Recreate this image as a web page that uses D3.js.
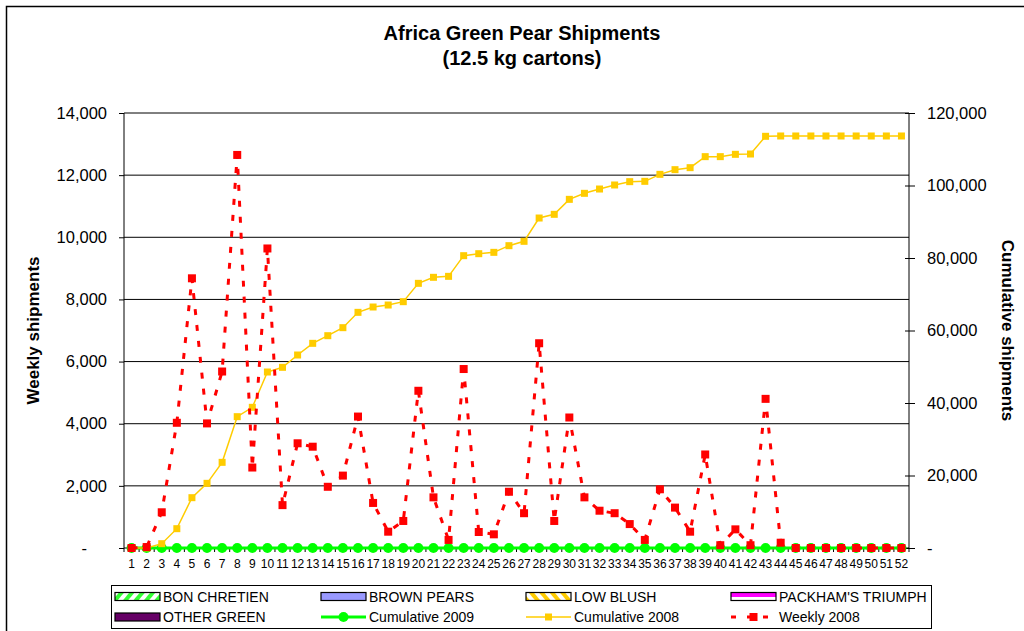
<!DOCTYPE html>
<html>
<head>
<meta charset="utf-8">
<script src="https://cdn.jsdelivr.net/npm/d3@7"></script>
<style>
  html, body { margin: 0; padding: 0; background: #fff; }
  svg { display: block; font-family: "Liberation Sans", Arial, sans-serif; }
</style>
</head>
<body>
<svg id="chart" width="1024" height="631"></svg>
<script>
// ---------- DATA ----------
const categories = ["1","2","3","4","5","6","7","8","9","10","11","12","13","14","15","16","17","18","19","20","21","22","23","24","25","26","27","28","29","30","31","32","33","34","35","36","37","38","39","40","41","42","43","44","45","46","47","48","49","50","51","52"];

const weekly2008 = [0, 30, 1150, 4030, 8680, 4010, 5680, 12650, 2590, 9640, 1380, 3370, 3260, 1970, 2330, 4230, 1450, 525, 870, 5060, 1630, 260, 5760, 515, 440, 1810, 1120, 6590, 870, 4200, 1630, 1200, 1120, 770, 260, 1890, 1300, 525, 3010, 90, 600, 90, 4800, 170, 0, 0, 0, 0, 0, 0, 0, 0];

const cumulative2008 = [0, 30, 1190, 5330, 13880, 17840, 23630, 36230, 38810, 48550, 49840, 53240, 56460, 58570, 60780, 65010, 66480, 67030, 67950, 73010, 74670, 74940, 80640, 81190, 81560, 83400, 84600, 91030, 92050, 96180, 97840, 99030, 100140, 101060, 101150, 103080, 104370, 104920, 107960, 107960, 108600, 108690, 113570, 113660, 113660, 113660, 113660, 113660, 113660, 113660, 113660, 113660];

const cumulative2009 = [0,0,0,0,0,0,0,0,0,0,0,0,0,0,0,0,0,0,0,0,0,0,0,0,0,0,0,0,0,0,0,0,0,0,0,0,0,0,0,0,0,0,0,0,0,0,0,0,0,0,0,0];

const leftTicks = [0, 2000, 4000, 6000, 8000, 10000, 12000, 14000];
const rightTicks = [0, 20000, 40000, 60000, 80000, 100000, 120000];

const barSeries = ["BON CHRETIEN", "BROWN PEARS", "LOW BLUSH", "PACKHAM'S TRIUMPH", "OTHER GREEN"];
const lineSeries = ["Cumulative 2009", "Cumulative 2008", "Weekly 2008"];

// ---------- LAYOUT ----------
const svg = d3.select("#chart");
const plot = { left: 124, right: 909, top: 113, bottom: 548 };

const x = d3.scaleBand().domain(categories).range([plot.left, plot.right]).padding(0);
const cx = d => x(d) + x.bandwidth() / 2;
const yL = d3.scaleLinear().domain([0, 14000]).range([plot.bottom, plot.top]);
const yR = d3.scaleLinear().domain([0, 120000]).range([plot.bottom, plot.top]);

const fmt = d3.format(",");

// defs: patterns
const defs = svg.append("defs");
const pGreen = defs.append("pattern").attr("id", "hatchGreen").attr("patternUnits", "userSpaceOnUse")
  .attr("width", 8).attr("height", 8).attr("patternTransform", "rotate(40)");
pGreen.append("rect").attr("width", 8).attr("height", 8).attr("fill", "#fff");
pGreen.append("rect").attr("width", 4).attr("height", 8).attr("fill", "#33ff33");

const pYellow = defs.append("pattern").attr("id", "hatchYellow").attr("patternUnits", "userSpaceOnUse")
  .attr("width", 8).attr("height", 8).attr("patternTransform", "rotate(-40)");
pYellow.append("rect").attr("width", 8).attr("height", 8).attr("fill", "#fff");
pYellow.append("rect").attr("width", 4).attr("height", 8).attr("fill", "#ffcc00");

// outer border
svg.append("rect").attr("x", 6.5).attr("y", 6.5).attr("width", 1030).attr("height", 640)
  .attr("fill", "none").attr("stroke", "#000").attr("stroke-width", 1.5);

// title
svg.append("text").attr("x", 522).attr("y", 40).attr("text-anchor", "middle")
  .attr("font-size", "20px").attr("font-weight", "bold").text("Africa Green Pear Shipments");
svg.append("text").attr("x", 522).attr("y", 65).attr("text-anchor", "middle")
  .attr("font-size", "20px").attr("font-weight", "bold").text("(12.5 kg cartons)");

// gridlines
svg.append("g").selectAll("line").data(leftTicks.filter(d => d > 0)).join("line")
  .attr("x1", plot.left).attr("x2", plot.right)
  .attr("y1", d => yL(d)).attr("y2", d => yL(d))
  .attr("stroke", "#000").attr("stroke-width", 1);

// left axis
const gL = svg.append("g").attr("transform", `translate(${plot.left},0)`)
  .call(d3.axisLeft(yL).tickValues(leftTicks).tickSize(5).tickPadding(12)
    .tickFormat(d => d === 0 ? "-" : fmt(d)));
gL.select(".domain").remove();
gL.selectAll(".tick line").attr("stroke", "#000");
gL.selectAll(".tick text").attr("font-size", "16.5px").attr("fill", "#000")
  .attr("font-family", "Liberation Sans, Arial, sans-serif")
  .filter(d => d === 0).attr("dx", -20);

// right axis
const gR = svg.append("g").attr("transform", `translate(${plot.right},0)`)
  .call(d3.axisRight(yR).tickValues(rightTicks).tickSize(6).tickPadding(12)
    .tickFormat(d => d === 0 ? "-" : fmt(d)));
gR.select(".domain").remove();
gR.selectAll(".tick line").attr("x1", -4).attr("x2", 6).attr("stroke", "#000");
gR.selectAll(".tick text").attr("font-size", "16.5px").attr("fill", "#000")
  .attr("font-family", "Liberation Sans, Arial, sans-serif");

// axis lines
svg.append("line").attr("x1", plot.left).attr("x2", plot.left).attr("y1", plot.top).attr("y2", plot.bottom)
  .attr("stroke", "#000").attr("stroke-width", 1);
svg.append("line").attr("x1", plot.right).attr("x2", plot.right).attr("y1", plot.top).attr("y2", plot.bottom)
  .attr("stroke", "#000").attr("stroke-width", 1);

// x axis
const gX = svg.append("g").attr("transform", `translate(0,${plot.bottom})`)
  .call(d3.axisBottom(x).tickSize(0).tickPadding(11));
gX.select(".domain").remove();
gX.selectAll(".tick text").attr("font-size", "12px").attr("fill", "#000")
  .attr("font-family", "Liberation Sans, Arial, sans-serif");
svg.append("g").selectAll("line").data(categories).join("line")
  .attr("x1", d => x(d)).attr("x2", d => x(d))
  .attr("y1", plot.bottom).attr("y2", plot.bottom + 4)
  .attr("stroke", "#000").attr("stroke-width", 1);
svg.append("line").attr("x1", plot.right).attr("x2", plot.right)
  .attr("y1", plot.bottom).attr("y2", plot.bottom + 4).attr("stroke", "#000");
svg.append("line").attr("x1", plot.left).attr("x2", plot.right).attr("y1", plot.bottom).attr("y2", plot.bottom)
  .attr("stroke", "#000").attr("stroke-width", 1);

// axis titles
svg.append("text").attr("transform", `translate(39,${(plot.top + plot.bottom) / 2}) rotate(-90)`)
  .attr("text-anchor", "middle").attr("font-size", "17px").attr("font-weight", "bold").text("Weekly shipments");
svg.append("text").attr("transform", `translate(1002,${(plot.top + plot.bottom) / 2}) rotate(90)`)
  .attr("text-anchor", "middle").attr("font-size", "17px").attr("font-weight", "bold").text("Cumulative shipments");

// ---------- SERIES ----------
// Cumulative 2009 (green)
const c09 = categories.map((c, i) => [cx(c), yR(cumulative2009[i])]);
svg.append("path").attr("d", d3.line()(c09)).attr("fill", "none").attr("stroke", "#00ff00").attr("stroke-width", 3);
svg.append("g").selectAll("circle").data(c09).join("circle")
  .attr("cx", d => d[0]).attr("cy", d => d[1]).attr("r", 5).attr("fill", "#00ff00");

// Cumulative 2008 (yellow)
const c08 = categories.map((c, i) => [cx(c), yR(cumulative2008[i])]);
svg.append("path").attr("d", d3.line()(c08)).attr("fill", "none").attr("stroke", "#ffcc00").attr("stroke-width", 1.5);
svg.append("g").selectAll("rect").data(c08).join("rect")
  .attr("x", d => d[0] - 3.5).attr("y", d => d[1] - 3.5).attr("width", 7).attr("height", 7).attr("fill", "#ffcc00");

// Weekly 2008 (red dashed)
const w08 = categories.map((c, i) => [cx(c), yL(weekly2008[i])]);
svg.append("path").attr("d", d3.line()(w08)).attr("fill", "none").attr("stroke", "#ff0000")
  .attr("stroke-width", 3).attr("stroke-dasharray", "6,10");
svg.append("g").selectAll("rect").data(w08).join("rect")
  .attr("x", d => d[0] - 4).attr("y", d => d[1] - 4).attr("width", 8).attr("height", 8).attr("fill", "#ff0000");

// ---------- LEGEND ----------
svg.append("rect").attr("x", 111.5).attr("y", 585.5).attr("width", 820).attr("height", 43)
  .attr("fill", "#fff").attr("stroke", "#000").attr("stroke-width", 1);

const colX = [163, 369, 574, 779];
const rowY = [596.5, 617];
const legendItems = [
  { name: barSeries[0], type: "bar", fill: "url(#hatchGreen)" },
  { name: barSeries[1], type: "bar", fill: "#9999ff" },
  { name: barSeries[2], type: "bar", fill: "url(#hatchYellow)" },
  { name: barSeries[3], type: "barPink", fill: "#ff00ff" },
  { name: barSeries[4], type: "bar", fill: "#660066" },
  { name: lineSeries[0], type: "lineCircle", color: "#00ff00" },
  { name: lineSeries[1], type: "lineSquare", color: "#ffcc00" },
  { name: lineSeries[2], type: "lineDash", color: "#ff0000" }
];
legendItems.forEach((it, i) => {
  const tx = colX[i % 4], ty = rowY[Math.floor(i / 4)];
  const g = svg.append("g");
  const sx0 = tx - 48, sx1 = tx - 3;
  if (it.type === "bar") {
    g.append("rect").attr("x", sx0).attr("y", ty - 4).attr("width", sx1 - sx0).attr("height", 8)
      .attr("fill", it.fill).attr("stroke", "#000").attr("stroke-width", 1.2);
  } else if (it.type === "barPink") {
    g.append("rect").attr("x", sx0).attr("y", ty - 4).attr("width", sx1 - sx0).attr("height", 8).attr("fill", "#fff");
    g.append("rect").attr("x", sx0).attr("y", ty - 4).attr("width", sx1 - sx0).attr("height", 4.5).attr("fill", it.fill);
    g.append("rect").attr("x", sx0).attr("y", ty - 4).attr("width", sx1 - sx0).attr("height", 8)
      .attr("fill", "none").attr("stroke", "#000").attr("stroke-width", 1.2);
  } else if (it.type === "lineCircle") {
    g.append("line").attr("x1", sx0).attr("x2", sx1).attr("y1", ty).attr("y2", ty).attr("stroke", it.color).attr("stroke-width", 3);
    g.append("circle").attr("cx", (sx0 + sx1) / 2).attr("cy", ty).attr("r", 5).attr("fill", it.color);
  } else if (it.type === "lineSquare") {
    g.append("line").attr("x1", sx0).attr("x2", sx1).attr("y1", ty).attr("y2", ty).attr("stroke", it.color).attr("stroke-width", 1.5);
    g.append("rect").attr("x", (sx0 + sx1) / 2 - 3.5).attr("y", ty - 3.5).attr("width", 7).attr("height", 7).attr("fill", it.color);
  } else if (it.type === "lineDash") {
    g.append("line").attr("x1", sx0).attr("x2", sx1).attr("y1", ty).attr("y2", ty).attr("stroke", it.color)
      .attr("stroke-width", 3).attr("stroke-dasharray", "5,11");
    g.append("rect").attr("x", (sx0 + sx1) / 2 - 4).attr("y", ty - 4).attr("width", 8).attr("height", 8).attr("fill", it.color);
  }
  g.append("text").attr("x", tx).attr("y", ty + 5).attr("font-size", "14px").attr("fill", "#000").text(it.name);
});
</script>
</body>
</html>
